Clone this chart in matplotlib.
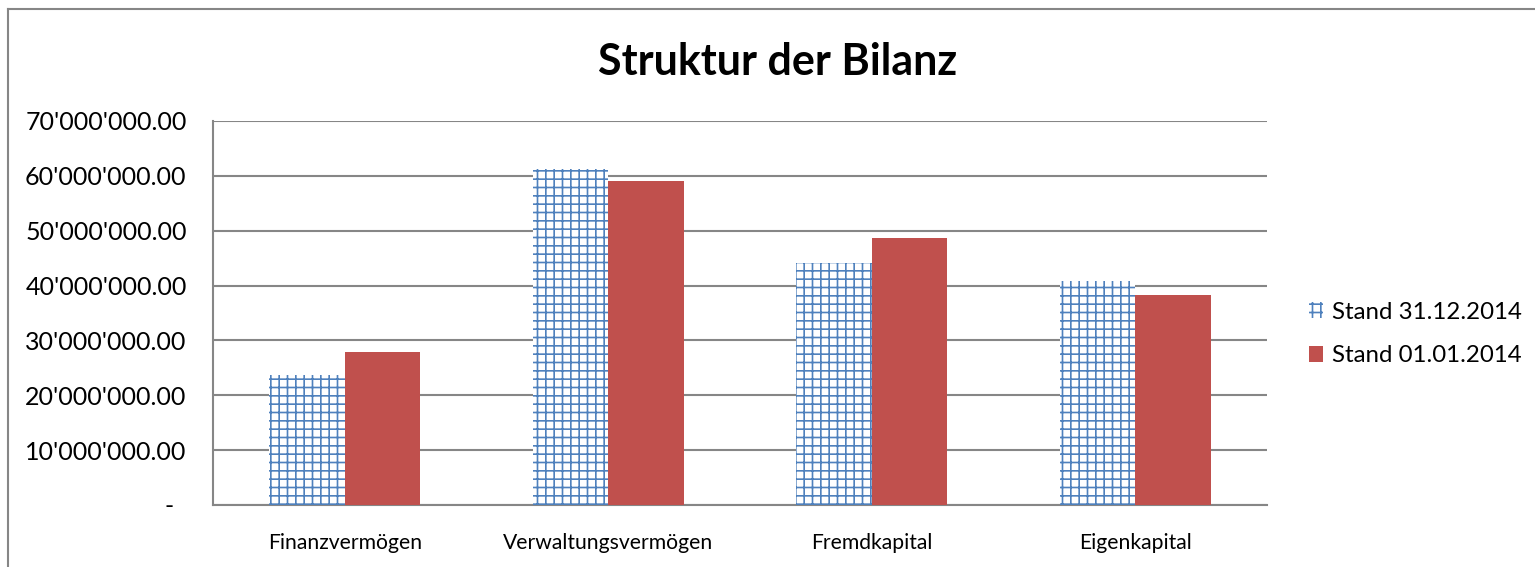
import matplotlib
matplotlib.use("Agg")
import matplotlib.pyplot as plt
from matplotlib.lines import Line2D
from matplotlib.ticker import FuncFormatter
import numpy as np

categories = ["Finanzvermögen", "Verwaltungsvermögen", "Fremdkapital", "Eigenkapital"]
series_names = ["Stand 31.12.2014", "Stand 01.01.2014"]
stand_2014_end = [23.7e6, 61.2e6, 44.1e6, 40.9e6]
stand_2014_start = [27.9e6, 59.1e6, 48.7e6, 38.2e6]
title = "Struktur der Bilanz"

plt.rcParams['font.family'] = ['Lato', 'DejaVu Sans']
plt.rcParams['hatch.linewidth'] = 1.2

W, H = 1535, 567
fig = plt.figure(figsize=(W / 100, H / 100), dpi=100)
ax = fig.add_axes([213 / W, 1 - 505 / H, (1267 - 213) / W, (505 - 121) / H])

blue = '#4F81BD'
red = '#C0504D'
grid = '#868686'

x = np.arange(len(categories))
bw = 0.287
ax.bar(x - bw / 2, stand_2014_end, bw, facecolor='white', edgecolor=blue,
       hatch='++', linewidth=0, label=series_names[0], zorder=3)
ax.bar(x + bw / 2, stand_2014_start, bw, color=red, linewidth=0,
       label=series_names[1], zorder=3)

ax.set_xlim(-0.5, len(categories) - 0.5)
ax.set_ylim(0, 70e6)
ax.set_yticks(np.arange(0, 70e6 + 1, 10e6))


def fmt(v, pos):
    if abs(v) < 1:
        return "-  "
    return f"{v:,.2f}".replace(",", "'")


ax.yaxis.set_major_formatter(FuncFormatter(fmt))
ax.set_xticks(x)
ax.set_xticklabels(categories)
ax.tick_params(axis='y', length=0, pad=19, labelsize=18)
ax.tick_params(axis='x', length=0, pad=20, labelsize=15.2)
ax.grid(axis='y', color=grid, linewidth=1.5, zorder=0)
ax.set_axisbelow(True)
for s in ['top', 'right']:
    ax.spines[s].set_visible(False)
for s in ['left', 'bottom']:
    ax.spines[s].set_color(grid)
    ax.spines[s].set_linewidth(1.5)

fig.text(0.5 * (593 + 963) / W, 1 - 62 / H, title, ha='center', va='center',
         fontsize=31, fontweight='bold')

ax.legend(loc='center left', bbox_to_anchor=((1309 - 213) / (1267 - 213), (505 - 334) / (505 - 121)),
          frameon=False, fontsize=17.3, handlelength=0.6, handleheight=0.6,
          handletextpad=0.35, labelspacing=0.95, borderaxespad=0, borderpad=0)

# outer chart frame (cropped)
fig.add_artist(Line2D([8 / W, 1], [1 - 9 / H, 1 - 9 / H], color=grid, linewidth=1.5,
                      transform=fig.transFigure))
fig.add_artist(Line2D([8 / W, 8 / W], [0, 1 - 9 / H], color=grid, linewidth=1.5,
                      transform=fig.transFigure))

fig.savefig("out.png", dpi=100, facecolor='white')
